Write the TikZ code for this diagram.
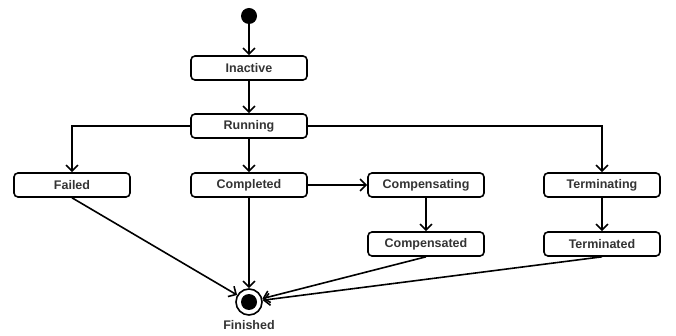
\documentclass[tikz,border=0pt]{standalone}
\usepackage{fontspec}
\setmainfont{Liberation Sans}
\usetikzlibrary{arrows.meta}

\begin{document}
\begin{tikzpicture}[
            x=1pt, y=-1pt,
            state/.style={draw, rounded corners=4pt, line width=1.6pt,
                minimum width=116pt, minimum height=24pt, inner sep=0pt,
                font=\bfseries\fontsize{12.5}{14}\selectfont, text=black!80},
            trans/.style={draw, line width=1.6pt,
                -{Straight Barb[length=6pt,width=12pt,line width=1.6pt]}}
            ]
            \useasboundingbox (0,0) rectangle (676,336);
            % start and end
            \node[circle, fill=black, minimum size=16pt, inner sep=0pt] (start) at (249,16) {};
            \node[circle, draw, line width=1.6pt, minimum size=26pt, inner sep=0pt] (final) at (249,302) {};
            \fill (final.center) circle (8pt);
            \node[font=\bfseries\fontsize{12.5}{14}\selectfont, text=black!80] (finlabel) at (249,325) {Finished};
            % states
            \node[state] (inactive) at (249,68) {Inactive};
            \node[state] (running) at (249,126) {Running};
            \node[state] (failed) at (72,185) {Failed};
            \node[state] (completed) at (249,185) {Completed};
            \node[state] (compensating) at (426,185) {Compensating};
            \node[state] (terminating) at (602,185) {Terminating};
            \node[state] (compensated) at (426,244) {Compensated};
            \node[state] (terminated) at (602,244) {Terminated};
            % transitions
            \path[trans] (start) -- (inactive);
            \path[trans] (inactive) -- (running);
            \path[trans] (running.west) -| (failed.north);
            \path[trans] (running) -- (completed);
            \path[trans] (running.east) -| (terminating.north);
            \path[trans] (completed) -- (compensating);
            \path[trans] (compensating) -- (compensated);
            \path[trans] (terminating) -- (terminated);
            \path[trans] (failed.south) -- (final);
            \path[trans] (completed) -- (final);
            \path[trans] (compensated.south) -- (final);
            \path[trans] (terminated.south) -- (final);
\end{tikzpicture}
\end{document}
